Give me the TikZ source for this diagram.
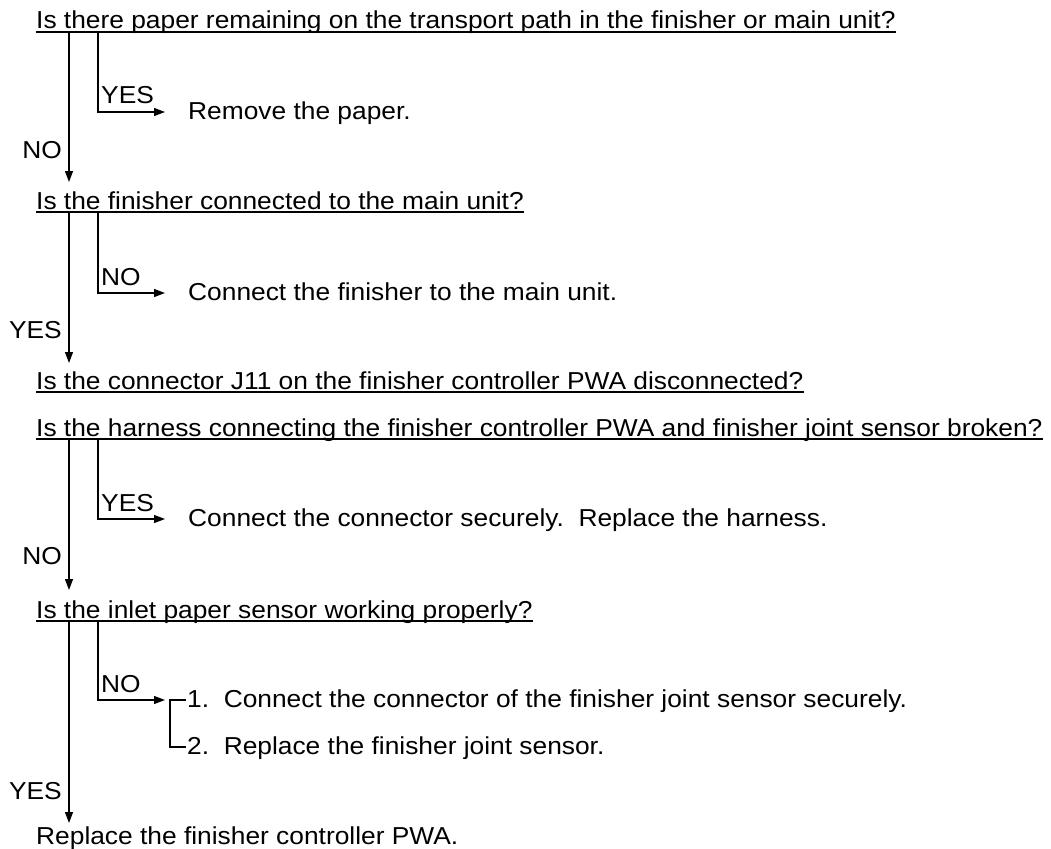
\documentclass[tikz,border=0pt]{standalone}
\usepackage{fontspec}
\setmainfont{Liberation Sans}[FakeStretch=1.075]
\usetikzlibrary{arrows.meta}
\begin{document}
\begin{tikzpicture}[x=1pt,y=-1pt,
  txt/.style={anchor=base west,inner sep=0pt,font=\fontsize{24.5}{28}\selectfont},
  sidelbl/.style={anchor=base east,inner sep=0pt,font=\fontsize{24.5}{28}\selectfont},
  brlbl/.style={anchor=base west,inner sep=0pt,font=\fontsize{24.5}{28}\selectfont},
  link/.style={line width=1.2pt},
  flow/.style={line width=1.2pt,-{Triangle[length=11pt,width=8pt]}}]
\useasboundingbox (0,0) rectangle (1051,848);

% Question 1
\node[txt] (q1) at (36,29) {Is there paper remaining on the transport path in the finisher or main unit?};
\draw[link] ([yshift=-3pt]q1.base west) -- ([yshift=-3pt]q1.base east);
\coordinate (m1) at (69,32);
\coordinate (b1) at (98,32);
\coordinate (c1) at (98,112);
\coordinate (e1) at (165,112);
\draw[flow] (b1) -- (c1) -- (e1);
\node[brlbl] (y1) at (101,104) {YES};
\node[txt] (a1) at (188,119.5) {Remove the paper.};
\coordinate (t1) at (69,182);
\draw[flow] (m1) -- (t1);
\node[sidelbl] (n1) at (62,158) {NO};

% Question 2
\node[txt] (q2) at (36,209) {Is the finisher connected to the main unit?};
\draw[link] ([yshift=-3pt]q2.base west) -- ([yshift=-3pt]q2.base east);
\coordinate (m2) at (69,212);
\coordinate (b2) at (98,212);
\coordinate (c2) at (98,293);
\coordinate (e2) at (165,293);
\draw[flow] (b2) -- (c2) -- (e2);
\node[brlbl] (y2) at (101,285) {NO};
\node[txt] (a2) at (188,300.5) {Connect the finisher to the main unit.};
\coordinate (t2) at (69,363);
\draw[flow] (m2) -- (t2);
\node[sidelbl] (n2) at (62,338) {YES};

% Question 3
\node[txt] (q3a) at (36,389) {Is the connector J11 on the finisher controller PWA disconnected?};
\draw[link] ([yshift=-3pt]q3a.base west) -- ([yshift=-3pt]q3a.base east);
\node[txt] (q3) at (36,436) {Is the harness connecting the finisher controller PWA and finisher joint sensor broken?};
\draw[link] ([yshift=-3pt]q3.base west) -- ([yshift=-3pt]q3.base east);
\coordinate (m3) at (69,439);
\coordinate (b3) at (98,439);
\coordinate (c3) at (98,519);
\coordinate (e3) at (165,519);
\draw[flow] (b3) -- (c3) -- (e3);
\node[brlbl] (y3) at (101,511) {YES};
\node[txt] (a3) at (188,526.5) {Connect the connector securely.\ \ Replace the harness.};
\coordinate (t3) at (69,590);
\draw[flow] (m3) -- (t3);
\node[sidelbl] (n3) at (62,564) {NO};

% Question 4
\node[txt] (q4) at (36,618) {Is the inlet paper sensor working properly?};
\draw[link] ([yshift=-3pt]q4.base west) -- ([yshift=-3pt]q4.base east);
\coordinate (m4) at (69,621);
\coordinate (b4) at (98,621);
\coordinate (c4) at (98,700);
\coordinate (e4) at (165,700);
\draw[flow] (b4) -- (c4) -- (e4);
\node[brlbl] (y4) at (101,692) {NO};
\coordinate (k1) at (186,700);
\coordinate (k2) at (186,747);
\coordinate (kt) at (170,700);
\coordinate (kb) at (170,747);
\draw[link] (k1) -- (kt) -- (kb) -- (k2);
\node[txt] (i1) at (187,707.5) {1.\ \ Connect the connector of the finisher joint sensor securely.};
\node[txt] (i2) at (187,754.5) {2.\ \ Replace the finisher joint sensor.};
\coordinate (t4) at (69,823);
\draw[flow] (m4) -- (t4);
\node[sidelbl] (n4) at (62,799) {YES};

% Final
\node[txt] (fin) at (36,844) {Replace the finisher controller PWA.};
\end{tikzpicture}
\end{document}
